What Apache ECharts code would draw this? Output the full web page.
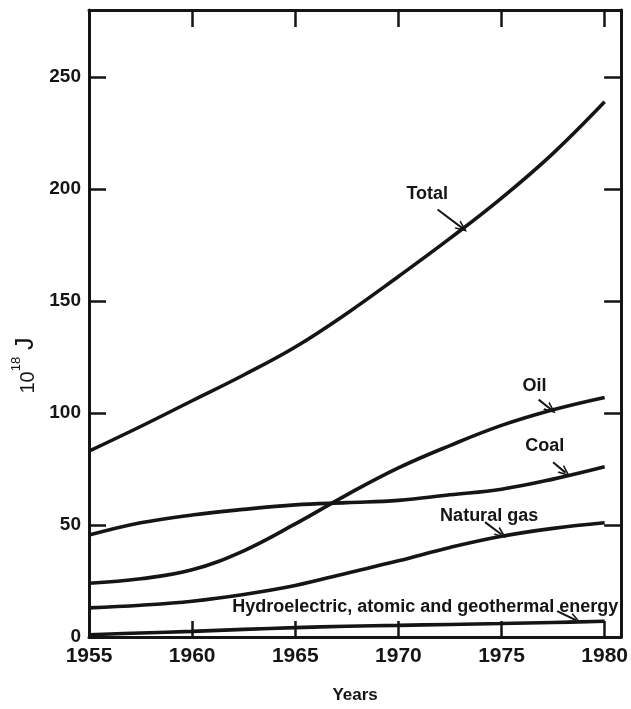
<!DOCTYPE html>
<html>
<head>
<meta charset="utf-8">
<script src="https://cdn.jsdelivr.net/npm/echarts@6/dist/echarts.min.js"></script>
<style>
  html, body { margin: 0; padding: 0; background: #fff; }
  #chart { width: 631px; height: 709px; }
</style>
</head>
<body>
<div id="chart"></div>
<script>
// World primary energy consumption by source, 1955-1980 (10^18 J)
const years = [1955, 1957.5, 1960, 1962.5, 1965, 1967.5, 1970, 1972.5, 1975, 1977.5, 1980];
const total = [83, 94, 105.5, 117, 129.5, 144.5, 161, 178, 196, 216, 239];
const oil = [24, 26, 30, 38.5, 50.5, 63.5, 75.5, 85.5, 94.5, 101.5, 107];
const coal = [45.5, 51, 54.5, 57, 59, 60, 61, 63.5, 66, 70.5, 76];
const naturalGas = [13, 14.2, 16, 19, 23, 28.5, 34, 40, 45, 48.5, 51];
const hydroAtomicGeo = [1, 1.8, 2.5, 3.4, 4.2, 4.8, 5.2, 5.6, 6, 6.5, 7];

const xTicks = [1955, 1960, 1965, 1970, 1975, 1980];
const yTicks = [0, 50, 100, 150, 200, 250];

// Curve captions: text anchor and arrow (from -> to) in data units
const captions = [
  { name: 'Total', at: [1971.4, 198], from: [1971.9, 190.9], to: [1973.1, 182.6] },
  { name: 'Oil', at: [1976.6, 111.9], from: [1976.8, 106.0], to: [1977.4, 101.6] },
  { name: 'Coal', at: [1977.1, 85.2], from: [1977.5, 78.0], to: [1978.1, 73.4] },
  { name: 'Natural gas', at: [1974.4, 53.8], from: [1974.2, 51.3], to: [1975.0, 45.8] },
  { name: 'Hydroelectric, atomic and geothermal energy', at: [1971.3, 13.5], from: [1977.7, 11.6], to: [1978.6, 7.5] }
];

const seriesDefs = [
  { name: 'Total', values: total },
  { name: 'Oil', values: oil },
  { name: 'Coal', values: coal },
  { name: 'Natural gas', values: naturalGas },
  { name: 'Hydroelectric, atomic and geothermal energy', values: hydroAtomicGeo }
];

const INK = '#151515';
const FONT = '"Liberation Sans", Arial, sans-serif';
// open V arrowhead, tip at the top
const chevron = 'path://M0,12 L6,0 L12,12 L10,12 L6,4 L2,12 Z';

const series = seriesDefs.map(def => {
  const cap = captions.find(c => c.name === def.name);
  return {
    type: 'line',
    name: def.name,
    data: years.map((y, i) => [y, def.values[i]]),
    smooth: 0.4,
    symbol: 'none',
    lineStyle: { color: INK, width: 3.6 },
    z: 3,
    markPoint: {
      symbol: 'circle',
      symbolSize: 0,
      silent: true,
      label: {
        show: true,
        position: 'inside',
        color: INK,
        fontFamily: FONT,
        fontWeight: 'bold',
        fontSize: 18,
        formatter: cap.name
      },
      data: [{ coord: cap.at }]
    },
    markLine: {
      silent: true,
      symbol: ['none', chevron],
      symbolSize: [10, 12],
      lineStyle: { color: INK, width: 2, type: 'solid' },
      label: { show: false },
      data: [[{ coord: cap.from }, { coord: cap.to }]]
    }
  };
});

const xFmt = v => (xTicks.indexOf(v) >= 0 ? String(v) : '');
const yFmt = v => (yTicks.indexOf(v) >= 0 ? String(v) : '');

const chart = echarts.init(document.getElementById('chart'), null, { renderer: 'canvas' });
chart.setOption({
  animation: false,
  backgroundColor: '#fff',
  grid: { left: 89, right: 4, top: 10, bottom: 59, containLabel: false },
  xAxis: [
    {
      type: 'value',
      position: 'bottom',
      min: 1955,
      max: 1980.8,
      interval: 5,
      name: 'Years',
      nameLocation: 'middle',
      nameGap: 50,
      nameTextStyle: { color: INK, fontFamily: FONT, fontWeight: 'bold', fontSize: 17 },
      axisLine: { show: true, onZero: false, lineStyle: { color: INK, width: 3 } },
      axisTick: { show: true, inside: true, length: 16, lineStyle: { color: INK, width: 2.5 } },
      axisLabel: {
        show: true, margin: 9, color: INK, fontFamily: FONT, fontWeight: 'bold', fontSize: 21,
        formatter: xFmt, showMaxLabel: false
      },
      splitLine: { show: false }
    },
    {
      type: 'value',
      position: 'top',
      min: 1955,
      max: 1980.8,
      interval: 5,
      axisLine: { show: true, onZero: false, lineStyle: { color: INK, width: 3 } },
      axisTick: { show: true, inside: true, length: 17, lineStyle: { color: INK, width: 2.5 } },
      axisLabel: { show: false },
      splitLine: { show: false }
    }
  ],
  yAxis: [
    {
      type: 'value',
      position: 'left',
      min: 0,
      max: 280,
      interval: 50,
      name: '{a|10}{b|18}{c| J}',
      nameLocation: 'middle',
      nameRotate: 90,
      nameGap: 41,
      nameTextStyle: {
        color: INK,
        fontFamily: FONT,
        padding: [0, 84, 0, 0],
        rich: {
          a: { fontSize: 20, fontFamily: FONT, color: INK, lineHeight: 28, verticalAlign: 'bottom' },
          b: { fontSize: 13, fontFamily: FONT, color: INK, lineHeight: 28, verticalAlign: 'top' },
          c: { fontSize: 25, fontFamily: FONT, color: INK, lineHeight: 28, verticalAlign: 'bottom' }
        }
      },
      axisLine: { show: true, onZero: false, lineStyle: { color: INK, width: 3 } },
      axisTick: { show: true, inside: true, length: 17, lineStyle: { color: INK, width: 2.5 } },
      axisLabel: {
        show: true, margin: 8, color: INK, fontFamily: FONT, fontWeight: 'bold', fontSize: 19,
        formatter: yFmt, showMaxLabel: false
      },
      splitLine: { show: false }
    },
    {
      type: 'value',
      position: 'right',
      min: 0,
      max: 280,
      interval: 50,
      axisLine: { show: true, onZero: false, lineStyle: { color: INK, width: 3 } },
      axisTick: { show: true, inside: true, length: 17, lineStyle: { color: INK, width: 2.5 } },
      axisLabel: { show: false },
      splitLine: { show: false }
    }
  ],
  series: series
});
</script>
</body>
</html>
